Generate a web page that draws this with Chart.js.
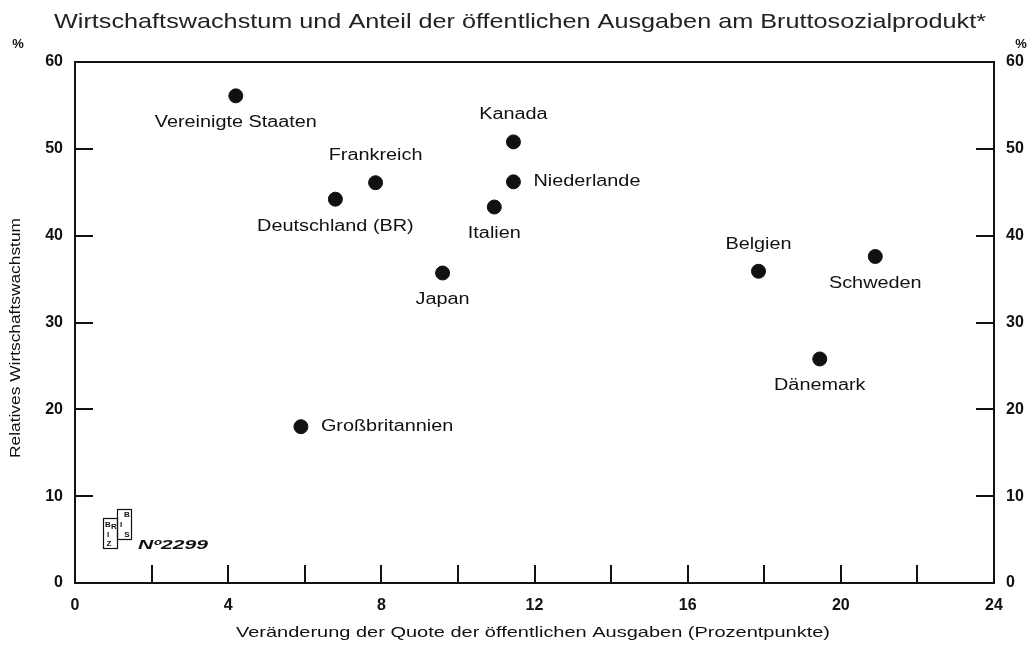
<!DOCTYPE html>
<html>
<head>
<meta charset="utf-8">
<script src="https://cdn.jsdelivr.net/npm/chart.js@4"></script>
<style>
  html, body { margin: 0; padding: 0; background: #fff; }
  #wrap { width: 1033px; height: 647px; }
</style>
</head>
<body>
<div id="wrap"><canvas id="growthChart" width="1033" height="647"></canvas></div>
<script>
const countries = [
  "Vereinigte Staaten", "Kanada", "Frankreich", "Niederlande", "Deutschland (BR)",
  "Italien", "Japan", "Belgien", "Schweden", "Dänemark", "Großbritannien"
];
// change in public spending share (percentage points)
const ausgabenQuote = [4.2, 11.45, 7.85, 11.45, 6.8, 10.95, 9.6, 17.85, 20.9, 19.45, 5.9];
// relative economic growth (%)
const wachstum = [56.1, 50.8, 46.1, 46.2, 44.2, 43.3, 35.7, 35.9, 37.6, 25.8, 18.0];
// where each name sits relative to its dot
const labelSide = ["below", "above", "above", "right", "below", "below", "below", "above", "below", "below", "right"];

const xTicks = [0, 4, 8, 12, 16, 20, 24];
const yTicks = [0, 10, 20, 30, 40, 50, 60];

const TITLE = "Wirtschaftswachstum und Anteil der öffentlichen Ausgaben am Bruttosozialprodukt*";
const X_TITLE = "Veränderung der Quote der öffentlichen Ausgaben (Prozentpunkte)";
const Y_TITLE = "Relatives Wirtschaftswachstum";

const FONT = '"Liberation Sans", Arial, sans-serif';
const INK = "#111";

const points = countries.map((c, i) => ({ x: ausgabenQuote[i], y: wachstum[i] }));

// the print uses a wide grotesque, so text is stretched sideways
function wideText(ctx, text, x, y, align, font, stretch, width) {
  ctx.font = font;
  const raw = ctx.measureText(text).width;
  const k = width ? width / raw : stretch;
  const w = raw * k;
  const left = align === "center" ? x - w / 2 : align === "right" ? x - w : x;
  ctx.save();
  ctx.translate(left, y);
  ctx.scale(k, 1);
  ctx.textAlign = "left";
  ctx.fillText(text, 0, 0);
  ctx.restore();
}

const decor = {
  id: "decor",
  afterDraw(chart) {
    const ctx = chart.ctx;
    const a = chart.chartArea;
    const sx = chart.scales.x, sy = chart.scales.y;
    ctx.save();
    ctx.strokeStyle = INK;
    ctx.lineWidth = 2;
    ctx.strokeRect(a.left, a.top, a.right - a.left, a.bottom - a.top);

    // inward tick marks
    ctx.beginPath();
    sx.ticks.forEach(t => {
      if (t.value <= 0 || t.value >= 24) return;
      const px = Math.round(sx.getPixelForValue(t.value));
      ctx.moveTo(px, a.bottom);
      ctx.lineTo(px, a.bottom - 18);
    });
    sy.ticks.forEach(t => {
      if (t.value <= 0 || t.value >= 60) return;
      const py = Math.round(sy.getPixelForValue(t.value));
      ctx.moveTo(a.left, py);
      ctx.lineTo(a.left + 18, py);
      ctx.moveTo(a.right, py);
      ctx.lineTo(a.right - 18, py);
    });
    ctx.stroke();

    ctx.textBaseline = "middle";

    // title
    ctx.fillStyle = "#222";
    wideText(ctx, TITLE, 520, 22, "center", "21px " + FONT, 1, 932);

    // percent signs
    ctx.fillStyle = INK;
    ctx.font = "bold 13px " + FONT;
    ctx.textAlign = "center";
    ctx.fillText("%", 18, 44);
    ctx.fillText("%", 1021, 44);

    // axis titles
    wideText(ctx, X_TITLE, 533, 633, "center", "15px " + FONT, 1, 594);
    ctx.save();
    ctx.translate(16, 338);
    ctx.rotate(-Math.PI / 2);
    wideText(ctx, Y_TITLE, 0, 0, "center", "15px " + FONT, 1, 240);
    ctx.restore();

    // point names
    const meta = chart.getDatasetMeta(0);
    meta.data.forEach((el, i) => {
      const side = labelSide[i];
      const f = "16px " + FONT;
      if (side === "right") {
        wideText(ctx, countries[i], el.x + 20, el.y, "left", f, 1.24);
      } else {
        wideText(ctx, countries[i], el.x, el.y + (side === "above" ? -27 : 27), "center", f, 1.24);
      }
    });

    // publisher mark
    ctx.lineWidth = 1.2;
    ctx.strokeRect(103.5, 518.5, 14, 30);
    ctx.strokeRect(117.5, 509.5, 14, 30);
    ctx.font = "bold 8px " + FONT;
    ctx.textAlign = "center";
    ctx.fillText("B", 108, 525);
    ctx.fillText("R", 114, 527);
    ctx.fillText("I", 108, 535);
    ctx.fillText("Z", 109, 544);
    ctx.fillText("B", 127, 515);
    ctx.fillText("I", 121, 525);
    ctx.fillText("S", 127, 535);
    wideText(ctx, "Nº2299", 138, 545, "left", "italic bold 13px " + FONT, 1, 70);
    ctx.restore();
  }
};

const tickFont = { family: FONT, size: 16, weight: "bold" };

const yScale = (pos, width) => ({
  type: "linear",
  position: pos,
  min: 0,
  max: 60,
  afterBuildTicks(s) { s.ticks = yTicks.map(v => ({ value: v })); },
  afterFit(s) { s.width = width; },
  grid: { display: false, drawTicks: false },
  border: { display: false },
  ticks: { color: INK, padding: 12, font: tickFont }
});

new Chart(document.getElementById("growthChart"), {
  type: "scatter",
  data: {
    datasets: [{
      data: points,
      backgroundColor: INK,
      borderColor: INK,
      pointRadius: 7,
      pointHoverRadius: 7
    }]
  },
  options: {
    responsive: false,
    animation: false,
    layout: { padding: { top: 62, left: 0, right: 0, bottom: 0 } },
    plugins: { legend: { display: false }, tooltip: { enabled: false } },
    scales: {
      x: {
        type: "linear",
        min: 0,
        max: 24,
        ticks: {
          stepSize: 2,
          color: INK,
          padding: 13,
          maxRotation: 0,
          font: tickFont,
          callback: v => (xTicks.includes(v) ? v : "")
        },
        afterFit(s) { s.height = 64; },
        grid: { display: false, drawTicks: false },
        border: { display: false }
      },
      y: yScale("left", 75),
      y2: yScale("right", 39)
    }
  },
  plugins: [decor]
});
</script>
</body>
</html>
